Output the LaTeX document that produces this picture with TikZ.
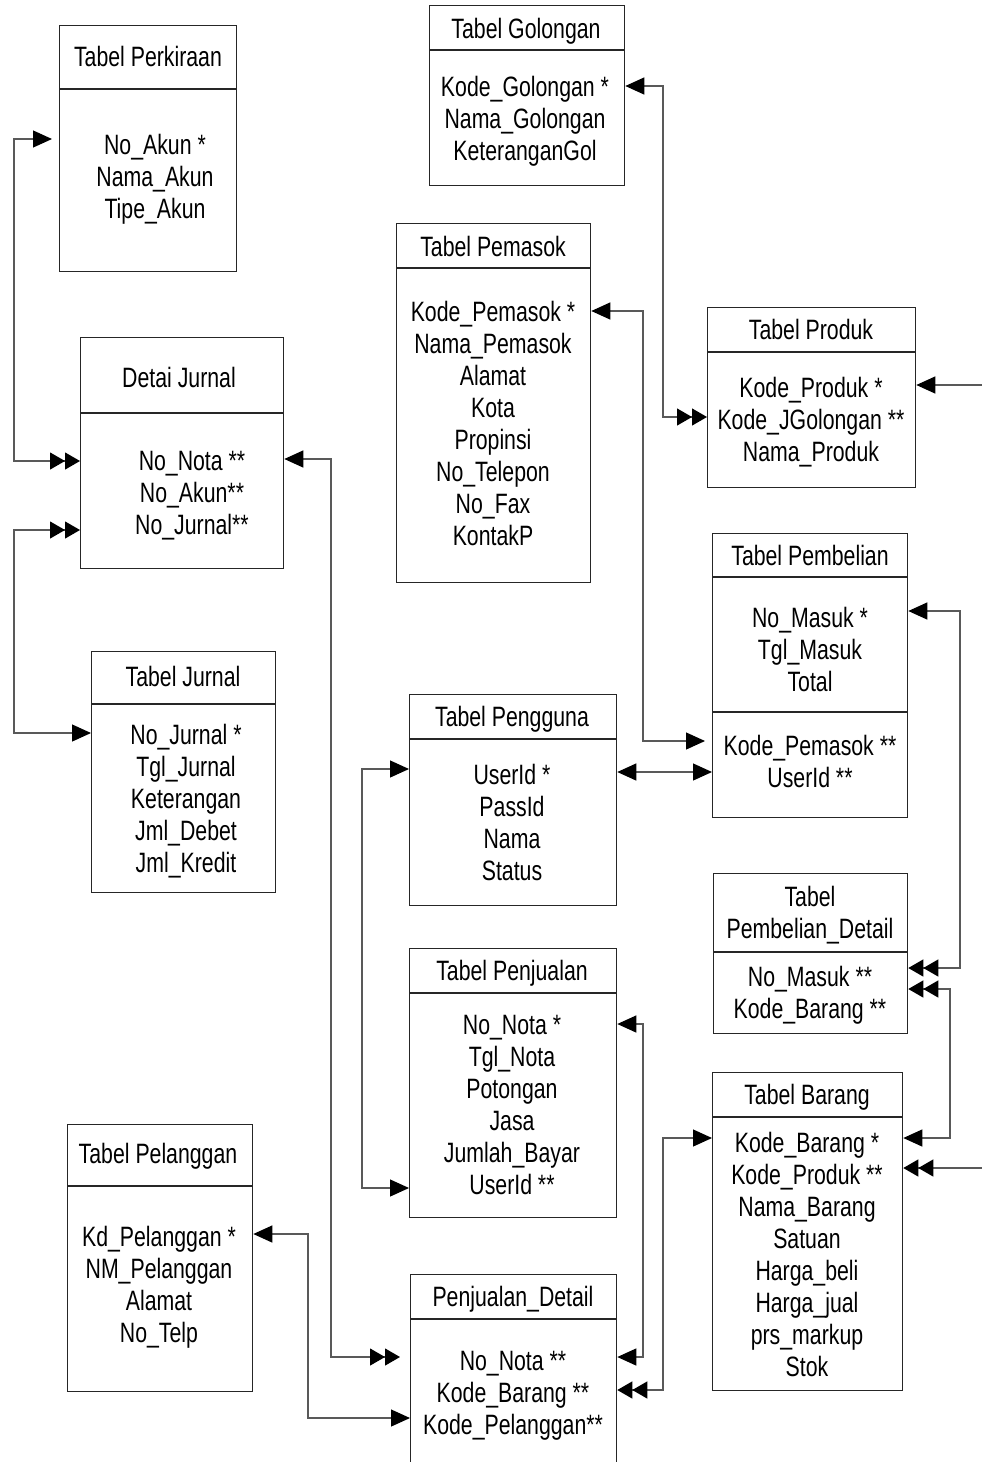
\documentclass[tikz,border=0pt]{standalone}
\usepackage{fontspec}
\setmainfont[FakeStretch=0.76]{Liberation Sans}
\usetikzlibrary{arrows.meta}
\tikzset{
  box/.style={draw=black!85, line width=1.3pt, inner sep=0pt, anchor=north west},
  boxln/.style={draw=black!85, line width=1.3pt},
  ttl/.style={font=\fontsize{28}{32}\selectfont, inner sep=0pt, align=center, anchor=base},
  fld/.style={font=\fontsize{28}{32}\selectfont, inner sep=0pt, align=center, anchor=north},
  cn/.style={draw=black!65, line width=1.2pt},
  sgl/.tip={Triangle[length=19pt,width=17pt,color=black]},
  dbl/.tip={Triangle[length=15pt,width=17pt,color=black] Triangle[length=15pt,width=17pt,color=black]}
}
\begin{document}
\begin{tikzpicture}[x=1pt,y=-1pt]
\useasboundingbox (0,0) rectangle (982,1462);
\clip (0,0) rectangle (982,1462);

% ---- boxes ----
\node[box, minimum width=177pt, minimum height=246pt] (perk) at (59,25) {};
\draw[boxln] (perk.west |- 0,89) -- (perk.east |- 0,89);
\node[ttl] (perk-t) at (148,66) {Tabel Perkiraan};
\node[fld] (perk-f) at (155,134) {No\_Akun *\\Nama\_Akun\\Tipe\_Akun};

\node[box, minimum width=195pt, minimum height=180pt] (gol) at (429,5) {};
\draw[boxln] (gol.west |- 0,50) -- (gol.east |- 0,50);
\node[ttl] (gol-t) at (526,38) {Tabel Golongan};
\node[fld] (gol-f) at (525,76) {Kode\_Golongan *\\Nama\_Golongan\\KeteranganGol};

\node[box, minimum width=194pt, minimum height=359pt] (pem) at (396,223) {};
\draw[boxln] (pem.west |- 0,268) -- (pem.east |- 0,268);
\node[ttl] (pem-t) at (493,256) {Tabel Pemasok};
\node[fld] (pem-f) at (493,301) {Kode\_Pemasok *\\Nama\_Pemasok\\Alamat\\Kota\\Propinsi\\No\_Telepon\\No\_Fax\\KontakP};

\node[box, minimum width=208pt, minimum height=180pt] (prod) at (707,307) {};
\draw[boxln] (prod.west |- 0,352) -- (prod.east |- 0,352);
\node[ttl] (prod-t) at (811,339) {Tabel Produk};
\node[fld] (prod-f) at (811,377) {Kode\_Produk *\\Kode\_JGolongan **\\Nama\_Produk};

\node[box, minimum width=203pt, minimum height=231pt] (detai) at (80,337) {};
\draw[boxln] (detai.west |- 0,413) -- (detai.east |- 0,413);
\node[ttl] (detai-t) at (179,387) {Detai Jurnal};
\node[fld] (detai-f) at (192,451) {No\_Nota **\\No\_Akun**\\No\_Jurnal**};

\node[box, minimum width=195pt, minimum height=284pt] (pbl) at (712,533) {};
\draw[boxln] (pbl.west |- 0,577) -- (pbl.east |- 0,577);
\draw[boxln] (pbl.west |- 0,712) -- (pbl.east |- 0,712);
\node[ttl] (pbl-t) at (810,565) {Tabel Pembelian};
\node[fld] (pbl-f) at (810,607) {No\_Masuk *\\Tgl\_Masuk\\Total};
\node[fld] (pbl-g) at (810,735) {Kode\_Pemasok **\\UserId **};

\node[box, minimum width=184pt, minimum height=241pt] (jur) at (91,651) {};
\draw[boxln] (jur.west |- 0,704) -- (jur.east |- 0,704);
\node[ttl] (jur-t) at (183,686) {Tabel Jurnal};
\node[fld] (jur-f) at (186,724) {No\_Jurnal *\\Tgl\_Jurnal\\Keterangan\\Jml\_Debet\\Jml\_Kredit};

\node[box, minimum width=207pt, minimum height=211pt] (peng) at (409,694) {};
\draw[boxln] (peng.west |- 0,739) -- (peng.east |- 0,739);
\node[ttl] (peng-t) at (512,726) {Tabel Pengguna};
\node[fld] (peng-f) at (512,764) {UserId *\\PassId\\Nama\\Status};

\node[box, minimum width=194pt, minimum height=160pt] (pbd) at (713,873) {};
\draw[boxln] (pbd.west |- 0,952) -- (pbd.east |- 0,952);
\node[fld] (pbd-t) at (810,886) {Tabel\\Pembelian\_Detail};
\node[fld] (pbd-f) at (810,966) {No\_Masuk **\\Kode\_Barang **};

\node[box, minimum width=207pt, minimum height=269pt] (pnj) at (409,948) {};
\draw[boxln] (pnj.west |- 0,993) -- (pnj.east |- 0,993);
\node[ttl] (pnj-t) at (512,980) {Tabel Penjualan};
\node[fld] (pnj-f) at (512,1015) {No\_Nota *\\Tgl\_Nota\\Potongan\\Jasa\\Jumlah\_Bayar\\UserId **};

\node[box, minimum width=190pt, minimum height=318pt] (brg) at (712,1072) {};
\draw[boxln] (brg.west |- 0,1117) -- (brg.east |- 0,1117);
\node[ttl] (brg-t) at (807,1104) {Tabel Barang};
\node[fld] (brg-f) at (807,1132) {Kode\_Barang *\\Kode\_Produk **\\Nama\_Barang\\Satuan\\Harga\_beli\\Harga\_jual\\prs\_markup\\Stok};

\node[box, minimum width=185pt, minimum height=267pt] (plg) at (67,1124) {};
\draw[boxln] (plg.west |- 0,1186) -- (plg.east |- 0,1186);
\node[ttl] (plg-t) at (158,1163) {Tabel Pelanggan};
\node[fld] (plg-f) at (159,1226) {Kd\_Pelanggan *\\NM\_Pelanggan\\Alamat\\No\_Telp};

\node[box, minimum width=206pt, minimum height=200pt] (pjd) at (410,1274) {};
\draw[boxln] (pjd.west |- 0,1319) -- (pjd.east |- 0,1319);
\node[ttl] (pjd-t) at (513,1306) {Penjualan\_Detail};
\node[fld] (pjd-f) at (513,1351) {No\_Nota **\\Kode\_Barang **\\Kode\_Pelanggan**};

% ---- off-page ends ----
\coordinate (offA) at (982,385);
\coordinate (offB) at (982,1168);

% ---- connectors ----
\draw[cn, dbl-sgl, shorten >=7pt] (detai.west |- 0,461) -- (14,461) |- (perk.west |- 0,139);
\draw[cn, dbl-sgl] (detai.west |- 0,530) -- (14,530) |- (jur.west |- 0,733);
\draw[cn, sgl-dbl, shorten >=10pt] (detai.east |- 0,459) -- (331,459) |- (pjd.west |- 0,1357);
\draw[cn, sgl-sgl] (peng.west |- 0,769) -- (362,769) |- (pnj.west |- 0,1188);
\draw[cn, sgl-sgl, shorten >=7pt] (pem.east |- 0,311) -- (643,311) |- (pbl.west |- 0,741);
\draw[cn, sgl-dbl] (gol.east |- 0,86) -- (663,86) |- (prod.west |- 0,417);
\draw[cn, sgl-sgl] (peng.east |- 0,772) -- (pbl.west |- 0,772);
\draw[cn, -sgl] (offA) -- (prod.east |- offA);
\draw[cn, -dbl] (offB) -- (brg.east |- offB);
\draw[cn, sgl-dbl] (pbl.east |- 0,611) -- (960,611) |- (pbd.east |- 0,968);
\draw[cn, dbl-sgl] (pbd.east |- 0,989) -- (950,989) |- (brg.east |- 0,1138);
\draw[cn, sgl-sgl] (pnj.east |- 0,1024) -- (643,1024) |- (pjd.east |- 0,1357);
\draw[cn, sgl-dbl] (brg.west |- 0,1138) -- (663,1138) |- (pjd.east |- 0,1390);
\draw[cn, sgl-sgl] (plg.east |- 0,1234) -- (308,1234) |- (pjd.west |- 0,1418);
\end{tikzpicture}
\end{document}
